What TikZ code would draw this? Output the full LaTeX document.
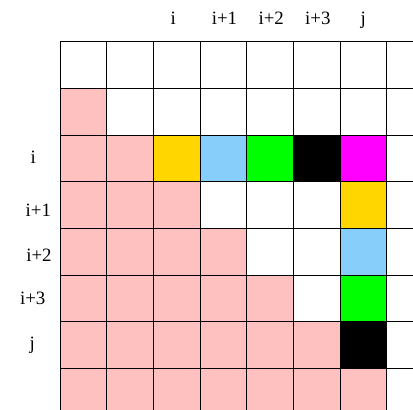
\documentclass[tikz,border=0pt]{standalone}
\usepackage{fontspec}
\setmainfont{Liberation Serif}
\begin{document}
\begin{tikzpicture}[x=1cm, y=-1cm, font=\fontsize{11.5}{14}\selectfont,
  lbl/.style={anchor=base, inner sep=0pt}]

\definecolor{cLow}{RGB}{255,192,192}
\definecolor{cGold}{RGB}{255,214,0}
\definecolor{cSky}{RGB}{135,206,250}
\definecolor{cLime}{RGB}{0,255,0}
\definecolor{cMag}{RGB}{255,0,255}

%% Frame: the table runs on past the right and bottom edges.
\useasboundingbox (-1.286,-0.893) rectangle (7.564,7.892);
\clip (-1.286,-0.893) rectangle (7.564,7.892);

%% ---------- lower triangle ----------
\foreach \r in {1,...,8} {
  \pgfmathtruncatemacro{\last}{\r-1}
  \foreach \c in {0,...,\last}
    \fill[cLow] (\c,\r) rectangle ++(1,1);
}

%% ---------- row i ----------
\foreach \c/\col in {2/cGold, 3/cSky, 4/cLime, 5/black, 6/cMag}
  \fill[\col] (\c,2) rectangle ++(1,1);

%% ---------- column j ----------
\foreach \r/\col in {3/cGold, 4/cSky, 5/cLime, 6/black}
  \fill[\col] (6,\r) rectangle ++(1,1);

%% ---------- grid ----------
\draw[black, line width=0.5pt] (0,0) grid (8,8);

%% ---------- indices ----------
\foreach \x/\t [count=\k] in {2.428/i, 3.525/i+1, 4.525/i+2, 5.524/i+3, 6.5/j}
  \node[lbl] (top\k) at (\x,-0.358) {\t};

\foreach \x/\y/\t [count=\k] in {-0.572/2.606/i, -0.465/3.75/i+1,
    -0.45/4.714/i+2, -0.585/5.641/i+3, -0.594/6.606/j}
  \node[lbl] (side\k) at (\x,\y) {\t};

\end{tikzpicture}
\end{document}
